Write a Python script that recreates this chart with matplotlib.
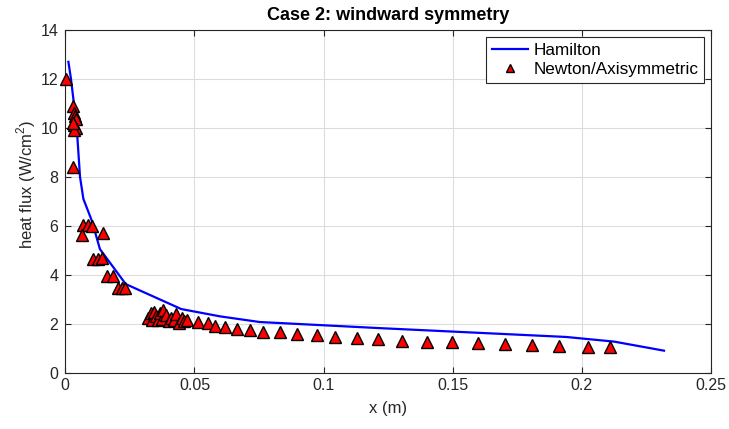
import numpy as np
import matplotlib
matplotlib.use('Agg')
from matplotlib import pyplot as plt

# Hamilton curve
ham_x = [0.0012, 0.0022, 0.0044, 0.0057, 0.0070, 0.0103, 0.0134, 0.0234,
         0.0449, 0.0600, 0.0753, 0.1219, 0.1939, 0.2125, 0.2318]
ham_y = [12.7, 12.0, 10.05, 8.0, 7.1, 6.2, 5.05, 3.62,
         2.60, 2.30, 2.07, 1.82, 1.46, 1.27, 0.90]

# Newton/Axisymmetric points
newt_x = [0.0002,
          0.0030, 0.0032, 0.0038, 0.0040, 0.0035, 0.0042, 0.0034, 0.0030, 0.0028,
          0.0070, 0.0089, 0.0102, 0.0063, 0.0147,
          0.0108, 0.0128, 0.0141, 0.0160, 0.0186, 0.0205, 0.0218, 0.0231,
          0.0320, 0.0330, 0.0335, 0.0345, 0.0350, 0.0360, 0.0365, 0.0375,
          0.0380, 0.0390, 0.0400, 0.0410, 0.0420, 0.0430, 0.0440, 0.0450,
          0.0460, 0.0470,
          0.0513, 0.0551, 0.0579, 0.0617, 0.0664, 0.0714, 0.0764, 0.0830,
          0.0896, 0.0973, 0.1046, 0.1131, 0.1209, 0.1305, 0.1401, 0.1498,
          0.1599, 0.1703, 0.1807, 0.1912, 0.2022, 0.2108]
newt_y = [12.0,
          10.9, 10.6, 10.5, 10.35, 10.1, 10.0, 9.9, 10.2, 8.4,
          6.03, 6.03, 5.99, 5.62, 5.71,
          4.63, 4.63, 4.67, 3.96, 3.96, 3.46, 3.46, 3.46,
          2.25, 2.45, 2.15, 2.50, 2.30, 2.15, 2.45, 2.20,
          2.55, 2.35, 2.10, 2.25, 2.15, 2.40, 2.05, 2.25,
          2.10, 2.15,
          2.08, 2.05, 1.90, 1.86, 1.78, 1.74, 1.68, 1.66,
          1.60, 1.56, 1.47, 1.40, 1.36, 1.31, 1.27, 1.24,
          1.20, 1.17, 1.15, 1.10, 1.06, 1.04]

xticks = [0, 0.05, 0.1, 0.15, 0.2, 0.25]
xtick_labels = ['0', '0.05', '0.1', '0.15', '0.2', '0.25']
yticks = [0, 2, 4, 6, 8, 10, 12, 14]


def main():
    plt.rcParams['font.family'] = ['Liberation Sans', 'DejaVu Sans']
    plt.rcParams['mathtext.fontset'] = 'custom'
    plt.rcParams['mathtext.rm'] = 'Liberation Sans'
    fig = plt.figure(figsize=(7.29, 4.29), dpi=100)
    ax = fig.add_axes([65.3 / 729, 1 - 372.7 / 429, (711 - 65.3) / 729, (372.7 - 30) / 429])

    ax.plot(ham_x, ham_y, color='#0000ff', lw=1.6, label='Hamilton', zorder=3)
    ax.plot(newt_x, newt_y, ls='none', marker='^', ms=8.5, mfc='#ff0000',
            mec='black', mew=1.0, label='Newton/Axisymmetric', zorder=4,
            clip_on=False)

    ax.set_xlim(0, 0.25)
    ax.set_ylim(0, 14)
    ax.set_xticks(xticks)
    ax.set_xticklabels(xtick_labels)
    ax.set_yticks(yticks)
    ax.grid(True, color='#dcdcdc', lw=0.8)
    ax.set_axisbelow(True)
    ax.tick_params(direction='in', top=True, right=True, length=4,
                   color='#262626', labelcolor='#262626', labelsize=11.5, width=0.8)
    ax.tick_params(axis='y', pad=5)
    for s in ax.spines.values():
        s.set_color('#262626')
        s.set_linewidth(0.8)

    ax.set_xlabel('x (m)', fontsize=12, color='#262626', labelpad=6)
    ax.set_ylabel('heat flux (W/cm$^2$)', fontsize=12, color='#262626')
    ax.yaxis.set_label_coords(-0.043, 0.548)
    ax.set_title('Case 2: windward symmetry', fontsize=13, fontweight='bold', pad=7)

    leg = ax.legend(loc='upper right', fontsize=12.3, frameon=True, fancybox=False,
                    edgecolor='#262626', framealpha=1, borderpad=0.35,
                    handlelength=2.1, handletextpad=0.3, labelspacing=0.25,
                    borderaxespad=0.4, markerscale=0.7)
    leg.get_frame().set_linewidth(0.8)

    fig.savefig('out.png', dpi=100)


if __name__ == '__main__':
    main()
